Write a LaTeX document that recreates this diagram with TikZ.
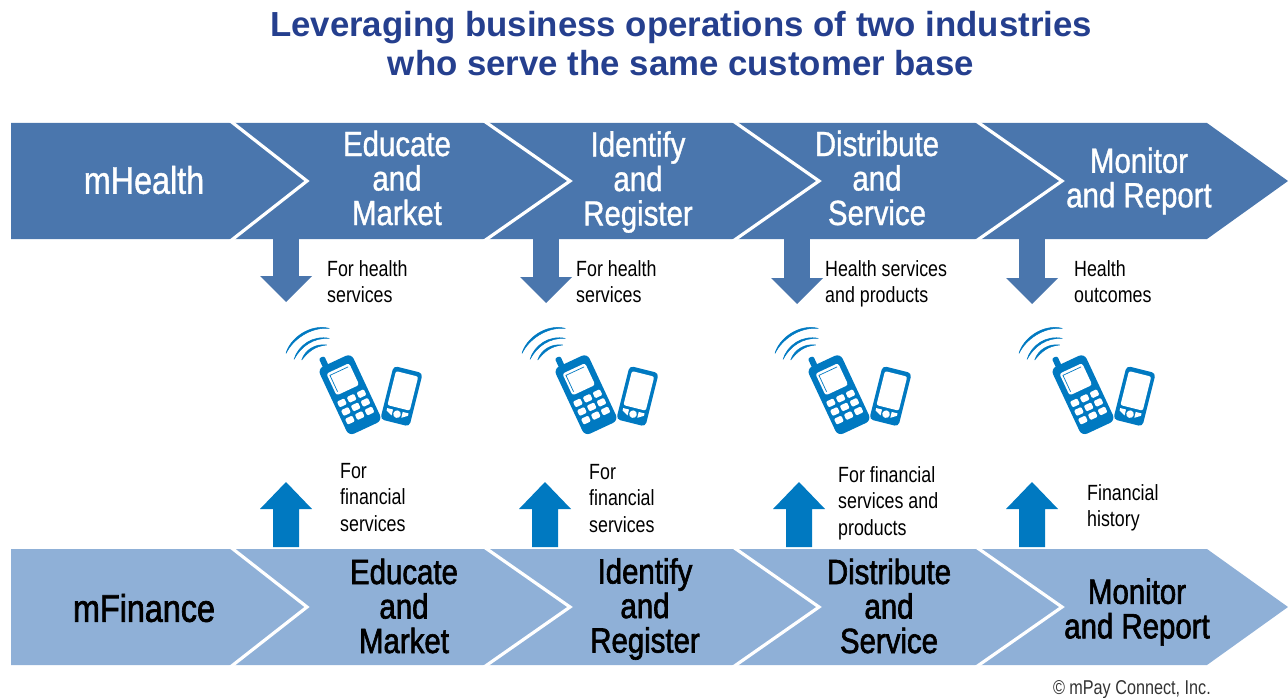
\documentclass[tikz,border=0pt]{standalone}
\usepackage{fontspec}
\setmainfont{Liberation Sans}
\newfontfamily\cond[FakeStretch=0.81]{Liberation Sans}
\newfontfamily\condm[FakeStretch=0.84,FakeBold=1.0]{Liberation Sans}
\newfontfamily\condb[FakeStretch=0.84,FakeBold=1.8]{Liberation Sans}
\definecolor{bandtop}{HTML}{4A76AD}
\definecolor{bandlow}{HTML}{8FB0D7}
\definecolor{phoneblue}{HTML}{0079C1}
\definecolor{titleblue}{HTML}{253F8E}
\tikzset{
  x=1pt,y=-1pt,
  sep/.style={draw=white,line width=3.2pt,miter limit=10},
  toplabel/.style={text=white,align=center,inner sep=0,font=\condm\fontsize{35}{34.5}\selectfont},
  lowlabel/.style={text=black,align=center,inner sep=0,font=\condb\fontsize{35}{34.5}\selectfont},
  small/.style={text=black,align=left,anchor=north west,inner sep=0,font=\cond\fontsize{22}{26.5}\selectfont},
  titletext/.style={text=titleblue,align=center,inner sep=0,font=\bfseries\fontsize{34.8}{39}\selectfont},
  credit/.style={text=black!80,inner sep=0,font=\cond\fontsize{20}{22}\selectfont},
  cellhole/.style={fill=white,rounded corners=1.2pt},
  wave/.style={fill=phoneblue,draw=phoneblue,line width=.5pt,line join=round},
  dnarrow/.pic={
    \fill[bandtop] (-26,-26) -- (26,-26) -- (0,0) -- cycle;
  },
  uparrowpic/.pic={
    \fill[phoneblue] (-13,0) -- (13,0) -- (13,-38) -- (26,-38) -- (0,-65) -- (-26,-38) -- (-13,-38) -- cycle;
  },
  phone/.pic={
    \path[wave] (-64,-41.3) .. controls (-60,-56.3) and (-40,-71.3) .. (-20.7,-66.3)
       .. controls (-39.3,-68) and (-57.3,-55.3) .. cycle;
    \path[wave] (-56,-35.3) .. controls (-51.7,-49.7) and (-36.7,-59.7) .. (-20.7,-56.3)
       .. controls (-36.7,-57.3) and (-49.3,-48) .. cycle;
    \path[wave] (-48.3,-34.7) .. controls (-45,-44.7) and (-35,-51.3) .. (-23.3,-49.7)
       .. controls (-35,-48.7) and (-41.7,-43) .. cycle;
    \begin{scope}[rotate=25]
      \fill[phoneblue,rounded corners=2pt] (-13,-30) rectangle (-7,-46);
      \fill[phoneblue,rounded corners=6pt] (-18.5,-37) rectangle (18.5,37);
      \fill[cellhole,rounded corners=2.5pt] (-12.5,-29) rectangle (12.5,-5);
      \draw[phoneblue,line width=.7pt] (-10,-8) -- (-10,-26) -- (10,-26);
      \foreach \kx in {-10.8,0,10.8}
        \foreach \ky in {4,13.5,23}
          \fill[cellhole] (\kx-4,\ky-3.2) rectangle (\kx+4,\ky+3.2);
    \end{scope}
    \begin{scope}[shift={(51.5,1.5)},rotate=-14]
      \fill[phoneblue,rounded corners=4pt] (-15,-27.5) rectangle (15,27.5);
      \fill[cellhole,rounded corners=2pt] (-11.5,-23) rectangle (11.5,12);
      \fill[white] (0,18.5) circle[radius=3.8];
      \fill[white] (-11,15) -- (-5,15) -- (-5,21) -- (-11,17.5) -- cycle;
      \fill[white] (11,15) -- (5,15) -- (5,21) -- (11,17.5) -- cycle;
    \end{scope}
  }
}
\newcommand{\chevrons}[2]{%
  \draw[sep] (230.4,#1) -- (307,#1+60) -- (230.4,#2);
  \draw[sep] (484.1,#1) -- (570,#1+60) -- (484.1,#2);
  \draw[sep] (733.1,#1) -- (819,#1+60) -- (733.1,#2);
  \draw[sep] (976.1,#1) -- (1062,#1+60) -- (976.1,#2);}
\begin{document}
\begin{tikzpicture}
\useasboundingbox (0,0) rectangle (1288,698);
\node[titletext] (title) at (681,43.5) {Leveraging business operations of two industries\\who serve the same customer base};

% down arrows, their shafts running from the band to the head
\fill[bandtop] (273,236) rectangle (299,280);
\fill[bandtop] (533,236) rectangle (559,280);
\fill[bandtop] (784,236) rectangle (810,280);
\fill[bandtop] (1019,236) rectangle (1045,280);
\pic at (286,302) {dnarrow};
\pic at (546,303) {dnarrow};
\pic at (797,304) {dnarrow};
\pic at (1032,304) {dnarrow};

% bands
\fill[bandtop] (11,123) -- (1207,123) -- (1288,181) -- (1207,239) -- (11,239) -- cycle;
\fill[bandlow] (11,549) -- (1207,549) -- (1288,607) -- (1207,665) -- (11,665) -- cycle;
\begin{scope}
  \clip (0,123) rectangle (1288,239);
  \chevrons{121}{241}
\end{scope}
\begin{scope}
  \clip (0,549) rectangle (1288,665);
  \chevrons{547}{667}
\end{scope}

% up arrows
\pic at (286,547) {uparrowpic};
\pic at (545,547) {uparrowpic};
\pic at (799,547) {uparrowpic};
\pic at (1032,547) {uparrowpic};

% phones
\pic at (350,394.7) {phone};
\pic at (586,394.7) {phone};
\pic at (839,394.7) {phone};
\pic at (1083,394.7) {phone};

% upper band text
\node[toplabel,font=\condm\fontsize{38.5}{39}\selectfont] (h0) at (144,180) {mHealth};
\node[toplabel] (h1) at (397,178) {Educate\\and\hspace*{8pt}\\Market};
\node[toplabel] (h2) at (638,182) {Identify\\and\\Register};
\node[toplabel] (h3) at (877,178) {Distribute\\and\\Service};
\node[toplabel] (h4) at (1139,181) {Monitor\\and Report};

% lower band text
\node[lowlabel,font=\condb\fontsize{38.5}{40}\selectfont] (f0) at (144,608) {mFinance};
\node[lowlabel] (f1) at (404,606) {Educate\\and\\Market};
\node[lowlabel] (f2) at (645,609) {Identify\\and\\Register};
\node[lowlabel] (f3) at (889,606) {Distribute\\and\\Service};
\node[lowlabel] (f4) at (1137,612) {Monitor\\and Report};

% small labels
\node[small] (d1) at (327,260) {For health\\services};
\node[small] (d2) at (576,260) {For health\\services};
\node[small] (d3) at (825,260) {Health services\\and products};
\node[small] (d4) at (1074,260) {Health\\outcomes};
\node[small] (u1) at (340,463) {For\\financial\\services};
\node[small] (u2) at (589,464) {For\\financial\\services};
\node[small] (u3) at (838,466) {For financial\\services and\\products};
\node[small] (u4) at (1087,484) {Financial\\history};

\node[credit,anchor=east] (c) at (1211,690) {© mPay Connect, Inc.};
\end{tikzpicture}
\end{document}
